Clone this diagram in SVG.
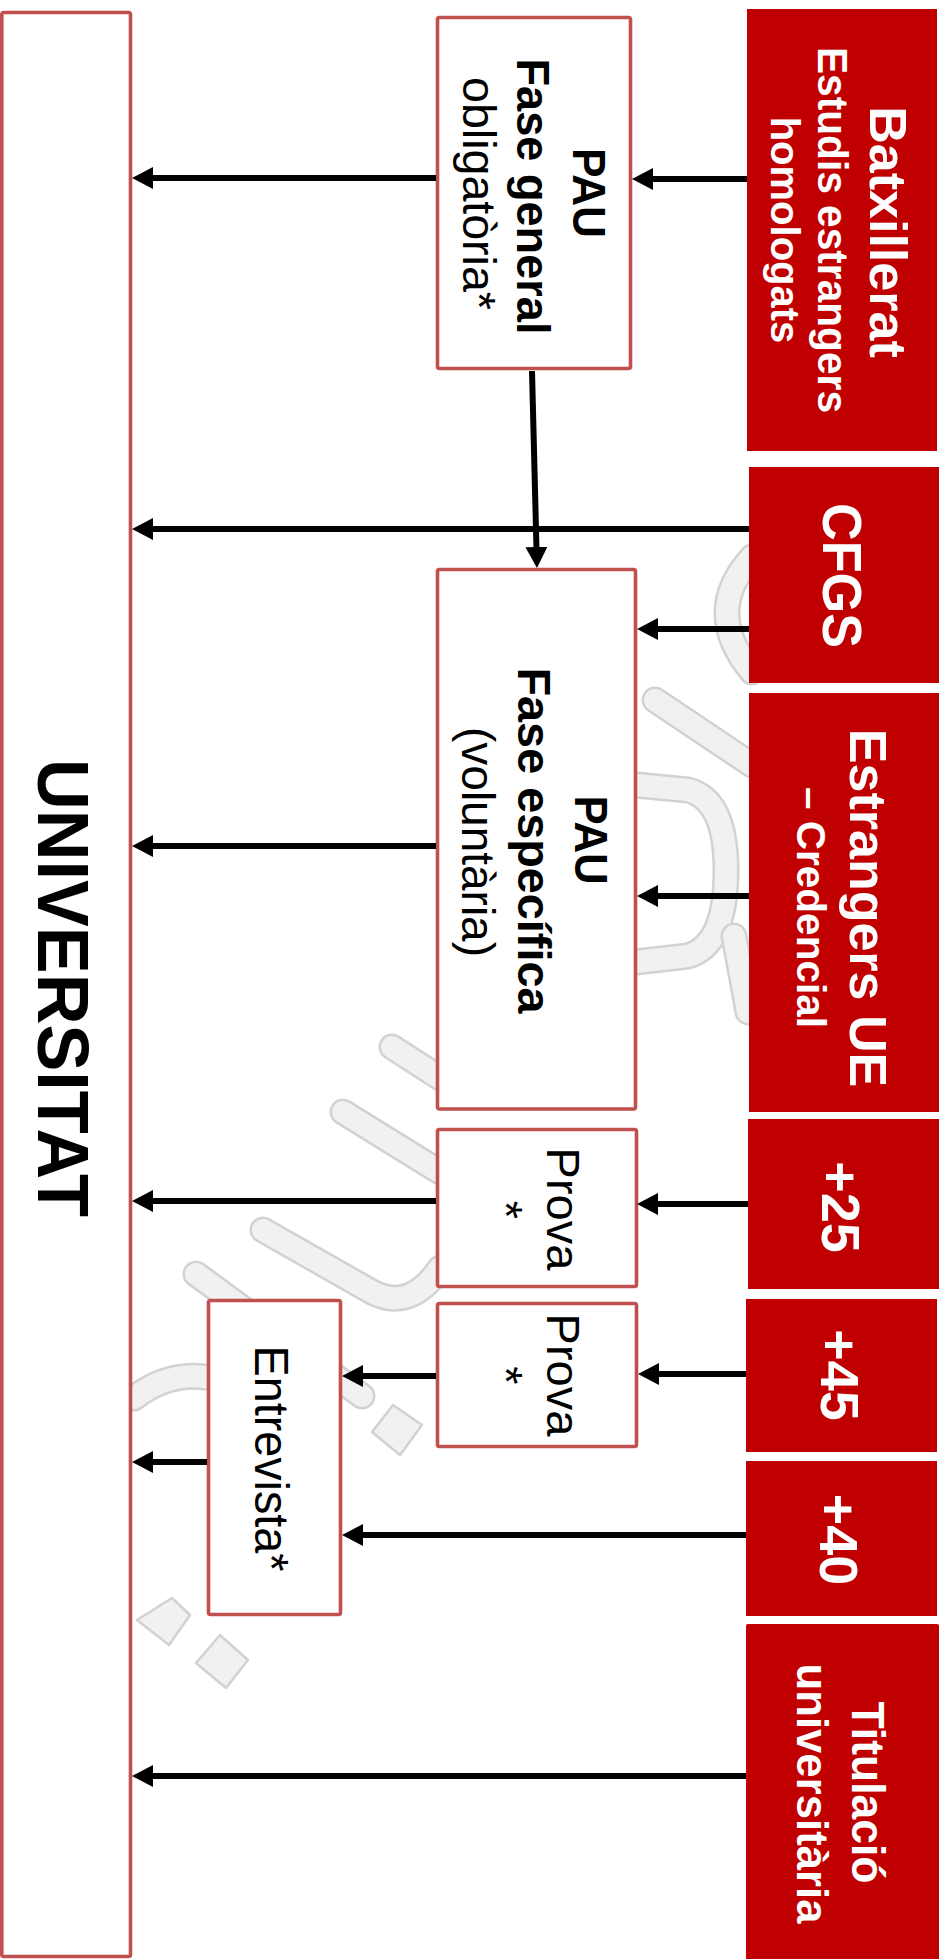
<svg xmlns="http://www.w3.org/2000/svg" width="947" height="1959" viewBox="0 0 947 1959">
<style>
.box{fill:#ffffff;stroke:#C0504D;stroke-width:3.6}
.red{fill:#C00000}
.cn{fill:none;stroke:#000000;stroke-width:6;marker-end:url(#ah)}
.t{font-family:"Liberation Sans",Arial,sans-serif;text-anchor:middle}
.b{font-weight:bold}
.w{fill:#ffffff}
.k{fill:#000000}
.wmo{fill:none;stroke:#d2d2d2;stroke-width:27;stroke-linejoin:round;stroke-linecap:round}
.wmi{fill:none;stroke:#f1f1f1;stroke-width:22;stroke-linejoin:round;stroke-linecap:round}
.wmd{fill:#f1f1f1;stroke:#d2d2d2;stroke-width:2.5;stroke-linejoin:round}
</style>
<defs>
<marker id="ah" markerUnits="userSpaceOnUse" markerWidth="22" markerHeight="22" refX="6" refY="11" orient="auto">
<path d="M0,0 L21,11 L0,22 z" fill="#000000"/>
</marker>
<path id="wm1" d="M392,1047 L440,1078"/>
<path id="wm2" d="M343,1112 L440,1172"/>
<path id="wm3" d="M263,1230 L372,1292 Q410,1312 440,1268"/>
<path id="wm4" d="M196,1274 L362,1396"/>
<path id="wm5" d="M134,1398 Q170,1370 212,1378"/>
<path id="wm6" d="M655,700 L752,765"/>
<path id="wm7" d="M636,785 L688,790 Q726,800 726,870 Q726,945 688,956 L636,962"/>
<path id="wm8" d="M752,557 Q702,612 752,672"/>
<path id="wm9" d="M734,936 L748,1012"/>
</defs>
<rect x="0" y="0" width="947" height="1959" fill="#ffffff"/>

<g id="watermark">
<use href="#wm1" class="wmo"/><use href="#wm1" class="wmi"/>
<use href="#wm2" class="wmo"/><use href="#wm2" class="wmi"/>
<use href="#wm3" class="wmo"/><use href="#wm3" class="wmi"/>
<use href="#wm4" class="wmo"/><use href="#wm4" class="wmi"/>
<use href="#wm5" class="wmo"/><use href="#wm5" class="wmi"/>
<use href="#wm6" class="wmo"/><use href="#wm6" class="wmi"/>
<use href="#wm7" class="wmo"/><use href="#wm7" class="wmi"/>
<use href="#wm8" class="wmo"/><use href="#wm8" class="wmi"/>
<use href="#wm9" class="wmo"/><use href="#wm9" class="wmi"/>
<path class="wmd" d="M393,1405 L422,1425 L400,1455 L372,1432 z"/>
<path class="wmd" d="M172,1598 L190,1615 L169,1645 L137,1620 z"/>
<path class="wmd" d="M220,1635 L248,1660 L226,1688 L196,1663 z"/>
</g>

<g id="universitat">
<rect class="box" x="1.8" y="12.5" width="128.7" height="1944" rx="2"/>
<g transform="rotate(90)"><text class="t b k" x="988" y="-38" font-size="72" textLength="458" lengthAdjust="spacingAndGlyphs">UNIVERSITAT</text></g>
</g>

<g id="batxillerat">
<rect class="red" x="747" y="9" width="190" height="442"/>
<g transform="rotate(90)">
<text class="t b w" x="232" y="-870" font-size="52">Batxillerat</text>
<text class="t b w" x="230" y="-818" font-size="42" textLength="366" lengthAdjust="spacingAndGlyphs">Estudis estrangers</text>
<text class="t b w" x="230" y="-771" font-size="40">homologats</text>
</g>
</g>

<g id="cfgs">
<rect class="red" x="749" y="467" width="190" height="216"/>
<g transform="rotate(90)"><text class="t b w" x="575.5" y="-823" font-size="55" textLength="145" lengthAdjust="spacingAndGlyphs">CFGS</text></g>
</g>

<g id="estrangers">
<rect class="red" x="749" y="693" width="190" height="419"/>
<g transform="rotate(90)">
<text class="t b w" x="908" y="-850" font-size="52">Estrangers UE</text>
<text class="t b w" x="907.5" y="-797" font-size="40" textLength="241" lengthAdjust="spacingAndGlyphs">– Credencial</text>
</g>
</g>

<g id="mes25">
<rect class="red" x="748" y="1119" width="191" height="170"/>
<g transform="rotate(90)"><text class="t b w" x="1207" y="-822" font-size="54">+25</text></g>
</g>

<g id="mes45">
<rect class="red" x="746" y="1299" width="191" height="153"/>
<g transform="rotate(90)"><text class="t b w" x="1375" y="-821" font-size="54">+45</text></g>
</g>

<g id="mes40">
<rect class="red" x="746" y="1461" width="191" height="155"/>
<g transform="rotate(90)"><text class="t b w" x="1539.5" y="-820" font-size="54">+40</text></g>
</g>

<g id="titulacio">
<rect class="red" x="746" y="1624" width="193" height="340" rx="2"/>
<g transform="rotate(90)">
<text class="t b w" x="1792.5" y="-852" font-size="46" textLength="182" lengthAdjust="spacingAndGlyphs">Titulació</text>
<text class="t b w" x="1793.5" y="-797" font-size="44" textLength="260" lengthAdjust="spacingAndGlyphs">universitària</text>
</g>
</g>

<g id="pau-general">
<rect class="box" x="437.5" y="17.5" width="193" height="351" rx="2"/>
<g transform="rotate(90)">
<text class="t b k" x="193" y="-573" font-size="47" textLength="90" lengthAdjust="spacingAndGlyphs">PAU</text>
<text class="t b k" x="196.5" y="-517" font-size="47" textLength="276" lengthAdjust="spacingAndGlyphs">Fase general</text>
<text class="t k" x="193.5" y="-463" font-size="46" textLength="233" lengthAdjust="spacingAndGlyphs">obligatòria*</text>
</g>
</g>

<g id="pau-especifica">
<rect class="box" x="437.5" y="569.5" width="198" height="539.5" rx="2"/>
<g transform="rotate(90)">
<text class="t b k" x="840" y="-575" font-size="47" textLength="89" lengthAdjust="spacingAndGlyphs">PAU</text>
<text class="t b k" x="840.5" y="-518" font-size="47" textLength="346" lengthAdjust="spacingAndGlyphs">Fase específica</text>
<text class="t k" x="842" y="-462" font-size="46" textLength="230" lengthAdjust="spacingAndGlyphs">(voluntària)</text>
</g>
</g>

<g id="prova-25">
<rect class="box" x="437.5" y="1129.5" width="199" height="157" rx="2"/>
<g transform="rotate(90)">
<text class="t k" x="1209" y="-547" font-size="47">Prova</text>
<text class="t k" x="1210" y="-490" font-size="47">*</text>
</g>
</g>

<g id="prova-45">
<rect class="box" x="437.5" y="1303.5" width="199" height="143" rx="2"/>
<g transform="rotate(90)">
<text class="t k" x="1375" y="-547" font-size="47">Prova</text>
<text class="t k" x="1375.5" y="-490" font-size="47">*</text>
</g>
</g>

<g id="entrevista">
<rect class="box" x="208.5" y="1300.5" width="132" height="314" rx="2"/>
<g transform="rotate(90)"><text class="t k" x="1458.5" y="-255" font-size="48" textLength="226" lengthAdjust="spacingAndGlyphs">Entrevista*</text></g>
</g>

<g id="connectors">
<path class="cn" d="M747,179 H647"/>
<path class="cn" d="M436,178 H147"/>
<path class="cn" d="M749,529 H147"/>
<path class="cn" d="M532,371 L536.6,553"/>
<path class="cn" d="M749,629 H652"/>
<path class="cn" d="M749,896 H652"/>
<path class="cn" d="M436,846 H147"/>
<path class="cn" d="M748,1204 H652"/>
<path class="cn" d="M436,1201 H147"/>
<path class="cn" d="M746,1374 H653"/>
<path class="cn" d="M436,1376 H357"/>
<path class="cn" d="M746,1535 H357"/>
<path class="cn" d="M207,1462 H147"/>
<path class="cn" d="M746,1776 H147"/>
</g>
</svg>
